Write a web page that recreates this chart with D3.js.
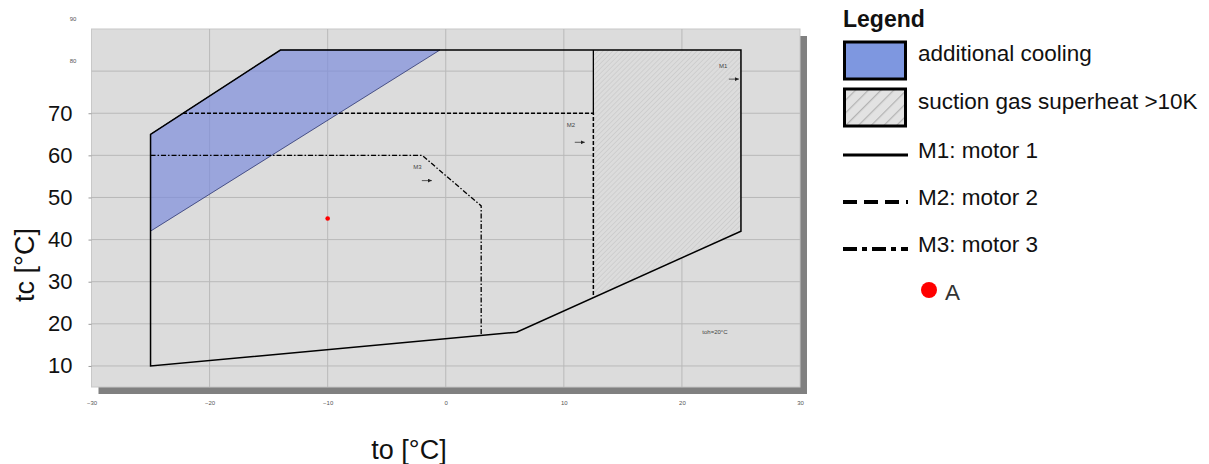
<!DOCTYPE html>
<html>
<head>
<meta charset="utf-8">
<script src="https://cdn.jsdelivr.net/npm/d3@7"></script>
<style>
  body { margin: 0; background: #fff; }
  svg { font-family: "Liberation Sans", Arial, sans-serif; }
</style>
</head>
<body>
<svg id="chart" width="1209" height="464"></svg>
<script>
// axis ticks
const xTicks = [-30, -20, -10, 0, 10, 20, 30];
const yTicksLarge = [10, 20, 30, 40, 50, 60, 70];
const yTicksSmall = [80, 90];

// application envelope, [to, tc]
const m1Envelope = [[-25, 10], [-25, 65], [-14, 85], [25, 85], [25, 42], [6, 18]];
const additionalCooling = [[-25, 42], [-25, 65], [-14, 85], [-0.5, 85]];
const superheatZone = [[12.5, 85], [25, 85], [25, 42], [12.5, 26.2]];
const m2Limit = [[-22.25, 70], [12.5, 70], [12.5, 26.2]];
const m3Limit = [[-25, 60], [-2, 60], [3, 48], [3, 17.2]];
const pointA = [[-10, 45]];

// small annotations inside the plot (data coords)
const motorNames = ["M1", "M2", "M3"];
const motorNameAt = [[23.5, 81.2], [10.6, 67.1], [-2.4, 57.1]];
const motorArrowAt = [[24.4, 78.1], [11.35, 63.1], [-1.6, 54.0]];
const noteText = "toh=20°C";
const noteAt = [22.8, 17.9];

const legendItems = ["additional cooling", "suction gas superheat >10K", "M1: motor 1", "M2: motor 2", "M3: motor 3", "A"];

const svg = d3.select("#chart");

const x = d3.scaleLinear().domain([-30, 30]).range([91.5, 800]);
const y = d3.scaleLinear().domain([5, 90]).range([387, 29]);
const line = d3.line().x((d) => x(d[0])).y((d) => y(d[1]));

const defs = svg.append("defs");
defs.append("pattern")
  .attr("id", "hatch")
  .attr("patternUnits", "userSpaceOnUse")
  .attr("width", 3.5).attr("height", 3.5)
  .attr("patternTransform", "rotate(45)")
  .call((p) => {
    p.append("rect").attr("width", 3.5).attr("height", 3.5).attr("fill", "#dcdcdc");
    p.append("line").attr("x1", 0).attr("y1", 0).attr("x2", 0).attr("y2", 3.5)
      .attr("stroke", "#c2c2c2").attr("stroke-width", 1);
  });
defs.append("pattern")
  .attr("id", "hatchBig")
  .attr("patternUnits", "userSpaceOnUse")
  .attr("width", 9).attr("height", 9)
  .attr("patternTransform", "rotate(45)")
  .call((p) => {
    p.append("rect").attr("width", 9).attr("height", 9).attr("fill", "#e2e2e2");
    p.append("line").attr("x1", 0).attr("y1", 0).attr("x2", 0).attr("y2", 9)
      .attr("stroke", "#b4b4b4").attr("stroke-width", 2.5);
  });
// small arrow head for the motor hints
defs.append("marker")
  .attr("id", "arrow")
  .attr("viewBox", "0 0 10 10")
  .attr("refX", 10).attr("refY", 5)
  .attr("markerWidth", 4).attr("markerHeight", 4)
  .attr("markerUnits", "userSpaceOnUse")
  .attr("orient", "auto")
  .append("path")
  .attr("d", "M 0 0 L 10 5 L 0 10 z")
  .attr("fill", "#222");

// plot frame with shadow
const [x0, x1] = x.range();
const [y1, y0] = y.range();
svg.append("rect")
  .attr("x", x0 + 7).attr("y", y0 + 7)
  .attr("width", x1 - x0).attr("height", y1 - y0)
  .attr("fill", "#808080");
svg.append("rect")
  .attr("x", x0).attr("y", y0)
  .attr("width", x1 - x0).attr("height", y1 - y0)
  .attr("fill", "#dcdcdc").attr("stroke", "#c8c8c8");

// grid
svg.append("g").selectAll("line")
  .data(xTicks.slice(1, -1)).join("line")
  .attr("x1", (d) => x(d)).attr("x2", (d) => x(d))
  .attr("y1", y0).attr("y2", y1)
  .attr("stroke", "#b9b9b9");
svg.append("g").selectAll("line")
  .data(yTicksLarge.concat([80])).join("line")
  .attr("x1", x0).attr("x2", x1)
  .attr("y1", (d) => y(d)).attr("y2", (d) => y(d))
  .attr("stroke", "#b9b9b9");

// zones
svg.append("path")
  .attr("d", line(superheatZone) + "Z")
  .attr("fill", "url(#hatch)");
svg.append("path")
  .attr("d", line(additionalCooling) + "Z")
  .attr("fill", "rgba(126,141,220,0.7)")
  .attr("stroke", "#2c3570").attr("stroke-width", 0.8);
svg.append("path")
  .attr("d", line(superheatZone.slice(0, 1).concat([m2Limit[1]])))
  .attr("fill", "none").attr("stroke", "#000").attr("stroke-width", 1.3);

// motor limits
svg.append("path")
  .attr("d", line(m1Envelope) + "Z")
  .attr("fill", "none").attr("stroke", "#000").attr("stroke-width", 1.5);
svg.append("path")
  .attr("d", line(m2Limit))
  .attr("fill", "none").attr("stroke", "#000").attr("stroke-width", 1.5)
  .attr("stroke-dasharray", "4,2");
svg.append("path")
  .attr("d", line(m3Limit))
  .attr("fill", "none").attr("stroke", "#000").attr("stroke-width", 1.3)
  .attr("stroke-dasharray", "5,2,1.5,2");

svg.append("g").selectAll("circle")
  .data(pointA).join("circle")
  .attr("cx", (d) => x(d[0])).attr("cy", (d) => y(d[1]))
  .attr("r", 2.3).attr("fill", "#ff0000");

// annotations
svg.append("g").selectAll("text")
  .data(motorNames).join("text")
  .attr("x", (d, i) => x(motorNameAt[i][0])).attr("y", (d, i) => y(motorNameAt[i][1]))
  .attr("text-anchor", "middle").attr("dominant-baseline", "middle")
  .attr("font-size", 6).attr("fill", "#444")
  .text((d) => d);
svg.append("g").selectAll("line")
  .data(motorArrowAt).join("line")
  .attr("x1", (d) => x(d[0]) - 5).attr("x2", (d) => x(d[0]) + 5)
  .attr("y1", (d) => y(d[1])).attr("y2", (d) => y(d[1]))
  .attr("stroke", "#333").attr("stroke-width", 0.8)
  .attr("marker-end", "url(#arrow)");
svg.append("text")
  .attr("x", x(noteAt[0])).attr("y", y(noteAt[1]))
  .attr("text-anchor", "middle").attr("dominant-baseline", "middle")
  .attr("font-size", 6).attr("fill", "#444")
  .text(noteText);

// axes
const yAxis = svg.append("g")
  .attr("transform", `translate(${x0},0)`)
  .call(d3.axisLeft(y).tickValues(yTicksLarge).tickSize(3).tickPadding(16));
yAxis.select(".domain").remove();
yAxis.selectAll("line").attr("stroke", "#999");
yAxis.selectAll("text").attr("font-size", 22).attr("fill", "#111")
  .attr("font-family", "Liberation Sans, Arial, sans-serif");

svg.append("g").selectAll("text")
  .data(yTicksSmall).join("text")
  .attr("x", 73).attr("y", (d) => y(d) - 10)
  .attr("text-anchor", "middle").attr("dominant-baseline", "middle")
  .attr("font-size", 6).attr("fill", "#555")
  .text((d) => d);

const xAxis = svg.append("g")
  .attr("transform", `translate(0,${y1})`)
  .call(d3.axisBottom(x).tickValues(xTicks).tickSize(0).tickPadding(14));
xAxis.select(".domain").remove();
xAxis.selectAll("text").attr("font-size", 6).attr("fill", "#555")
  .attr("font-family", "Liberation Sans, Arial, sans-serif");

svg.append("text")
  .attr("transform", "translate(34,265) rotate(-90)")
  .attr("text-anchor", "middle")
  .attr("font-size", 27).attr("fill", "#111")
  .text("tc [°C]");
svg.append("text")
  .attr("x", 409).attr("y", 459)
  .attr("text-anchor", "middle")
  .attr("font-size", 27).attr("fill", "#111")
  .text("to [°C]");

// legend
const lg = svg.append("g").attr("transform", "translate(843,0)");
lg.append("text").attr("x", 0).attr("y", 27)
  .attr("font-size", 23).attr("font-weight", "bold").attr("fill", "#111")
  .text("Legend");
const rowY = [55, 103, 152, 199, 246, 294];
lg.selectAll("text.item")
  .data(legendItems).join("text")
  .attr("class", "item")
  .attr("x", (d, i) => (i === 5 ? 102 : 75)).attr("y", (d, i) => rowY[i])
  .attr("dominant-baseline", "middle")
  .attr("font-size", 22.5).attr("fill", (d, i) => (i === 5 ? "#333" : "#111"))
  .text((d) => d);
lg.append("rect").attr("x", 1.5).attr("y", 42).attr("width", 61).attr("height", 37)
  .attr("fill", "#7e97e0").attr("stroke", "#000").attr("stroke-width", 3);
lg.append("rect").attr("x", 1.5).attr("y", 89).attr("width", 61).attr("height", 37)
  .attr("fill", "url(#hatchBig)").attr("stroke", "#000").attr("stroke-width", 3);
const legendDash = [null, "14,7", "14,5,5,5"];
lg.selectAll("line.item")
  .data(legendDash).join("line")
  .attr("class", "item")
  .attr("x1", 0).attr("x2", 65)
  .attr("y1", (d, i) => rowY[i + 2] + 3).attr("y2", (d, i) => rowY[i + 2] + 3)
  .attr("stroke", "#000").attr("stroke-width", (d) => (d ? 4 : 3))
  .attr("stroke-dasharray", (d) => d);
lg.append("circle").attr("cx", 86).attr("cy", rowY[5] - 4).attr("r", 8).attr("fill", "#ff0000");
</script>
</body>
</html>
